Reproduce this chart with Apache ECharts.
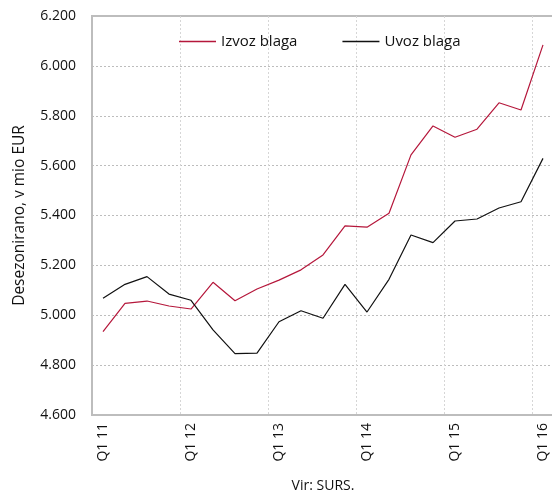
<!DOCTYPE html>
<html lang="sl">
<head>
    <meta charset="UTF-8">
    <title>Izvoz in uvoz blaga</title>
    <script src="https://cdn.jsdelivr.net/npm/echarts@6/dist/echarts.min.js"></script>
    <style>
        html, body { margin: 0; padding: 0; background: #fff; }
        #chart { width: 552px; height: 494px; }
    </style>
</head>
<body>
<div id="chart"></div>
<script>
    // četrtletja Q1 11 ... Q1 16
    var quarters = [
        'Q1 11', 'Q2 11', 'Q3 11', 'Q4 11',
        'Q1 12', 'Q2 12', 'Q3 12', 'Q4 12',
        'Q1 13', 'Q2 13', 'Q3 13', 'Q4 13',
        'Q1 14', 'Q2 14', 'Q3 14', 'Q4 14',
        'Q1 15', 'Q2 15', 'Q3 15', 'Q4 15',
        'Q1 16'
    ];
    // desezonirano, v mio EUR
    var izvoz = [4934, 5048, 5057, 5037, 5025, 5132, 5058, 5105, 5141, 5182, 5242,
        5358, 5353, 5409, 5643, 5759, 5714, 5746, 5852, 5823, 6084];
    var uvoz = [5068, 5124, 5155, 5085, 5060, 4941, 4846, 4848, 4974, 5018, 4988,
        5124, 5013, 5144, 5322, 5291, 5378, 5386, 5430, 5455, 5629];
    var yTicks = [4600, 4800, 5000, 5200, 5400, 5600, 5800, 6000, 6200];

    var font = '"Open Sans", sans-serif';
    var txt = '#111';
    var red = '#b5173b';

    function fmt(v) {
        // 6200 -> 6.200
        var s = String(v);
        return s.slice(0, s.length - 3) + '.' + s.slice(-3);
    }

    var option = {
        animation: false,
        textStyle: { fontFamily: font, color: txt },
        grid: {
            left: 92, top: 16, right: -2, bottom: 79,
            outerBoundsMode: 'none',
            show: true, borderColor: '#bdbdbd', borderWidth: 2
        },
        legend: {
            top: 29,
            left: 174,
            itemWidth: 37,
            itemHeight: 1.5,
            itemGap: 45,
            icon: 'rect',
            textStyle: { fontFamily: font, fontSize: 15, color: txt },
            data: ['Izvoz blaga', 'Uvoz blaga']
        },
        xAxis: {
            type: 'category',
            data: quarters,
            boundaryGap: true,
            name: 'Vir: SURS.',
            nameLocation: 'middle',
            nameGap: 64,
            nameTextStyle: { fontFamily: font, fontSize: 14, color: txt },
            axisLine: { lineStyle: { color: '#bdbdbd', width: 2 } },
            axisTick: { show: false },
            axisLabel: {
                interval: 3, rotate: 90, margin: 8,
                fontFamily: font, fontSize: 14, color: txt
            },
            splitLine: {
                show: true, interval: 3,
                lineStyle: { color: '#d6d6d6', type: [2, 2], width: 1 }
            }
        },
        yAxis: {
            type: 'value',
            min: yTicks[0],
            max: yTicks[yTicks.length - 1],
            interval: 200,
            name: 'Desezonirano, v mio EUR',
            nameLocation: 'middle',
            nameGap: 64,
            nameTextStyle: { fontFamily: font, fontSize: 15.5, color: txt },
            axisLine: { show: true, lineStyle: { color: '#bdbdbd', width: 2 } },
            axisTick: { show: false },
            axisLabel: {
                margin: 16, fontFamily: font, fontSize: 14, color: txt,
                formatter: fmt
            },
            splitLine: {
                lineStyle: { color: '#bdbdbd', type: [2, 2], width: 1 }
            }
        },
        series: [{
            name: 'Izvoz blaga',
            type: 'line',
            data: izvoz,
            symbol: 'none',
            lineStyle: { color: red, width: 1.2 },
            itemStyle: { color: red }
        }, {
            name: 'Uvoz blaga',
            type: 'line',
            data: uvoz,
            symbol: 'none',
            lineStyle: { color: '#111', width: 1.2 },
            itemStyle: { color: '#111' }
        }]
    };

    var myChart = echarts.init(document.getElementById('chart'));
    myChart.setOption(option);
</script>
</body>
</html>
